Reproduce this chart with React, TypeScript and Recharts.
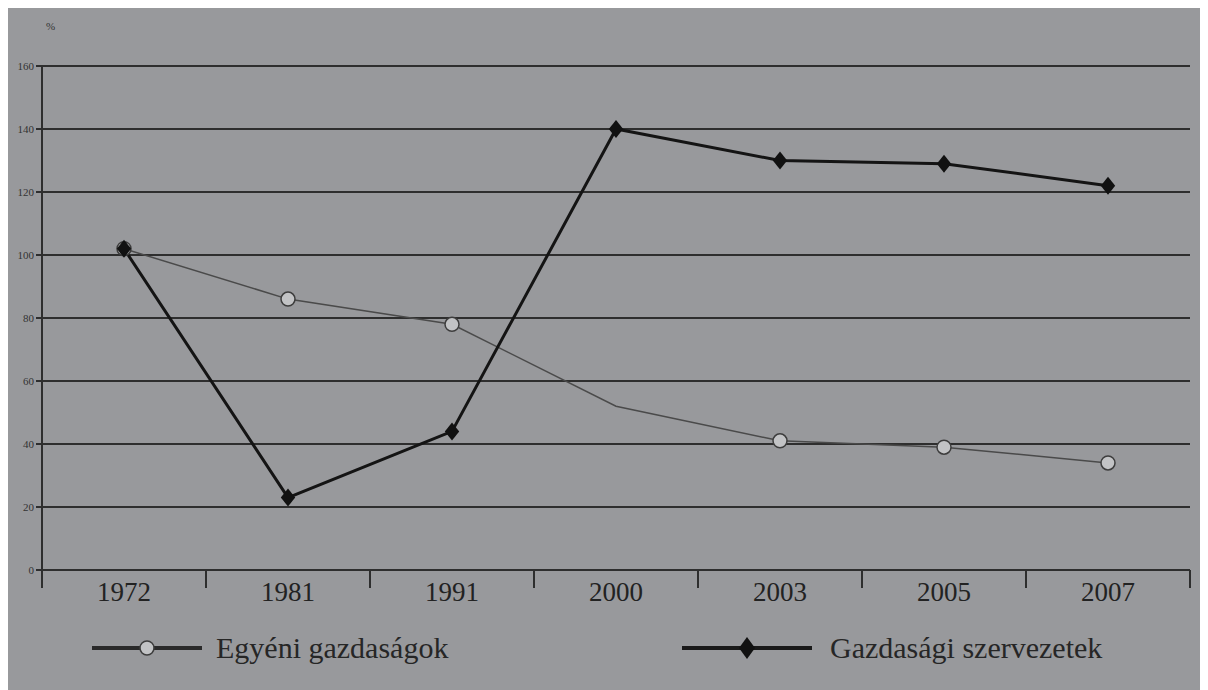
import React from "react";
import { CartesianGrid, Legend, Line, LineChart, XAxis, YAxis } from "recharts";

const years = ["1972", "1981", "1991", "2000", "2003", "2005", "2007"];
const egyeni = [102, 86, 78, 52, 41, 39, 34];
const szervezetek = [102, 23, 44, 140, 130, 129, 122];
const yTicks = [0, 20, 40, 60, 80, 100, 120, 140, 160];

const data = years.map((year, i) => ({
    x: i + 0.5,
    year,
    egyeni: egyeni[i],
    szervezetek: szervezetek[i],
}));
// category centres carry the year, whole numbers are the separators between them
const xTicks = [0, ...years.flatMap((_, i) => [i + 0.5, i + 1])];

const serif = "'Liberation Serif', 'DejaVu Serif', serif";

const XTick = (props: any) => {
    const { x, y, payload } = props;
    const v = payload.value;
    if (Number.isInteger(v)) {
        return <line x1={x} y1={y} x2={x} y2={y + 18} stroke="#2e2e2e" strokeWidth={2} />;
    }
    return (
        <text x={x} y={y + 31} textAnchor="middle" fill="#222" fontSize={27} fontFamily={serif}>
            {years[Math.floor(v)]}
        </text>
    );
};

// the 2000 point of the grey series has no marker in the original
const CircleDot = (props: any) => {
    const { cx, cy, index } = props;
    if (index === 3) return <g key={index} />;
    return <circle key={index} cx={cx} cy={cy} r={7} fill="#c2c3c5" stroke="#3d3d3d" strokeWidth={1.5} />;
};

const DiamondDot = (props: any) => {
    const { cx, cy, index } = props;
    const s = 9;
    return (
        <path
            key={index}
            d={`M${cx},${cy - s} L${cx + s * 0.8},${cy} L${cx},${cy + s} L${cx - s * 0.8},${cy} Z`}
            fill="#111"
        />
    );
};

const LegendContent = () => (
    <div style={{ display: "flex", fontFamily: serif, fontSize: 30, color: "#262626", height: 40, alignItems: "center" }}>
        <div style={{ display: "flex", alignItems: "center", marginLeft: 80, width: 590 }}>
            <svg width={110} height={20}>
                <line x1={0} y1={10} x2={110} y2={10} stroke="#2a2a2a" strokeWidth={4} />
                <circle cx={55} cy={10} r={7} fill="#c2c3c5" stroke="#3d3d3d" strokeWidth={1.5} />
            </svg>
            <span style={{ marginLeft: 14 }}>Egyéni gazdaságok</span>
        </div>
        <div style={{ display: "flex", alignItems: "center" }}>
            <svg width={130} height={24}>
                <line x1={0} y1={12} x2={130} y2={12} stroke="#1a1a1a" strokeWidth={4} />
                <path d="M65,1 L73,12 L65,23 L57,12 Z" fill="#111" />
            </svg>
            <span style={{ marginLeft: 18 }}>Gazdasági szervezetek</span>
        </div>
    </div>
);

export default function App() {
    return (
        <div style={{ position: "relative", width: 1200, height: 682, background: "#98999c" }}>
            <div style={{ position: "absolute", left: 38, top: 12, fontSize: 11, color: "#333", fontFamily: serif }}>%</div>
            <LineChart width={1200} height={682} data={data} margin={{ top: 58, right: 18, bottom: 22, left: 4 }}>
                <CartesianGrid vertical={false} stroke="#2e2e2e" strokeWidth={2} />
                <XAxis
                    type="number"
                    dataKey="x"
                    domain={[0, years.length]}
                    ticks={xTicks}
                    interval={0}
                    tick={XTick}
                    tickSize={0}
                    tickMargin={0}
                    tickLine={false}
                    axisLine={{ stroke: "#2e2e2e", strokeWidth: 2 }}
                    height={58}
                />
                <YAxis
                    domain={[0, 160]}
                    ticks={yTicks}
                    width={30}
                    tickSize={6}
                    tickLine={{ stroke: "#2e2e2e", strokeWidth: 2 }}
                    axisLine={{ stroke: "#2e2e2e", strokeWidth: 2 }}
                    tick={{ fill: "#333", fontSize: 11, fontFamily: serif }}
                />
                <Line
                    dataKey="egyeni"
                    stroke="#4a4a4a"
                    strokeWidth={1.5}
                    dot={CircleDot}
                    activeDot={false}
                    isAnimationActive={false}
                />
                <Line
                    dataKey="szervezetek"
                    stroke="#141414"
                    strokeWidth={3}
                    dot={DiamondDot}
                    activeDot={false}
                    isAnimationActive={false}
                />
                <Legend verticalAlign="bottom" content={LegendContent} />
            </LineChart>
        </div>
    );
}
